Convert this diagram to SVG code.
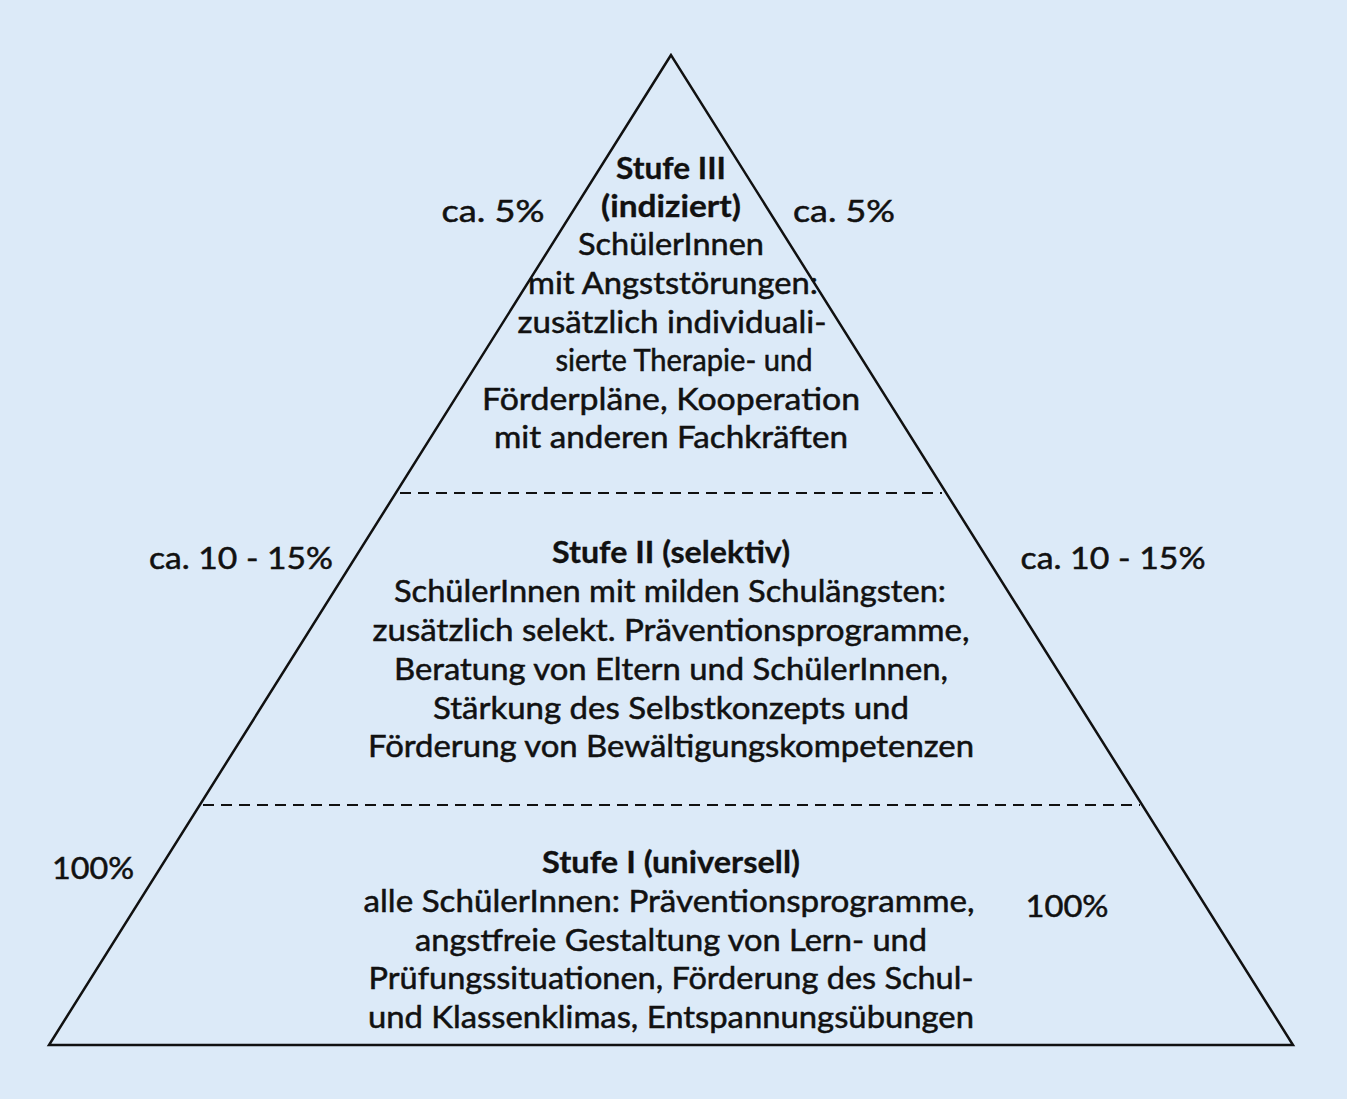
<svg xmlns="http://www.w3.org/2000/svg" width="1347" height="1099" viewBox="0 0 1347 1099">
<style>
.t{font-family:Lato,"Noto Sans","Liberation Sans",sans-serif;font-size:30px;fill:#111;stroke:#111;stroke-width:0.5;text-anchor:middle}
.b{font-weight:bold;stroke-width:0.3}
.l{fill:none;stroke:#111;stroke-width:2.5}
.d{fill:none;stroke:#111;stroke-width:2;stroke-dasharray:11 7}
</style>
<rect width="1347" height="1099" fill="#DCEAF8"/>
<g id="pyramid">
<polygon class="l" points="671,55 49,1045 1293,1045"/>
</g>
<g id="connectors">
<line class="d" x1="400" y1="493" x2="942" y2="493"/>
<line class="d" x1="203" y1="805" x2="1140" y2="805"/>
</g>
<g id="stufe3">
<text class="t b" x="671" y="179" textLength="110" lengthAdjust="spacingAndGlyphs">Stufe III</text>
<text class="t b" x="671" y="217" textLength="140" lengthAdjust="spacingAndGlyphs">(indiziert)</text>
<text class="t" x="671" y="255" textLength="186" lengthAdjust="spacingAndGlyphs">SchülerInnen</text>
<text class="t" x="673" y="294" textLength="290" lengthAdjust="spacingAndGlyphs">mit Angststörungen:</text>
<text class="t" x="672" y="333" textLength="309" lengthAdjust="spacingAndGlyphs">zusätzlich individuali-</text>
<text class="t" x="684" y="371" textLength="257" lengthAdjust="spacingAndGlyphs">sierte Therapie- und</text>
<text class="t" x="671" y="410" textLength="378" lengthAdjust="spacingAndGlyphs">Förderpläne, Kooperation</text>
<text class="t" x="671" y="448" textLength="354" lengthAdjust="spacingAndGlyphs">mit anderen Fachkräften</text>
<text class="t" x="493" y="222" textLength="103" lengthAdjust="spacingAndGlyphs">ca. 5%</text>
<text class="t" x="844" y="222" textLength="102" lengthAdjust="spacingAndGlyphs">ca. 5%</text>
</g>
<g id="stufe2">
<text class="t b" x="671" y="563" textLength="238" lengthAdjust="spacingAndGlyphs">Stufe II (selektiv)</text>
<text class="t" x="670" y="602" textLength="552" lengthAdjust="spacingAndGlyphs">SchülerInnen mit milden Schulängsten:</text>
<text class="t" x="671" y="641" textLength="597" lengthAdjust="spacingAndGlyphs">zusätzlich selekt. Präventionsprogramme,</text>
<text class="t" x="671" y="680" textLength="554" lengthAdjust="spacingAndGlyphs">Beratung von Eltern und SchülerInnen,</text>
<text class="t" x="671" y="719" textLength="476" lengthAdjust="spacingAndGlyphs">Stärkung des Selbstkonzepts und</text>
<text class="t" x="671" y="757" textLength="606" lengthAdjust="spacingAndGlyphs">Förderung von Bewältigungskompetenzen</text>
<text class="t" x="241" y="569" textLength="184" lengthAdjust="spacingAndGlyphs">ca. 10 - 15%</text>
<text class="t" x="1113" y="569" textLength="185" lengthAdjust="spacingAndGlyphs">ca. 10 - 15%</text>
</g>
<g id="stufe1">
<text class="t b" x="671" y="873" textLength="258" lengthAdjust="spacingAndGlyphs">Stufe I (universell)</text>
<text class="t" x="669" y="912" textLength="611" lengthAdjust="spacingAndGlyphs">alle SchülerInnen: Präventionsprogramme,</text>
<text class="t" x="671" y="951" textLength="512" lengthAdjust="spacingAndGlyphs">angstfreie Gestaltung von Lern- und</text>
<text class="t" x="671" y="989" textLength="605" lengthAdjust="spacingAndGlyphs">Prüfungssituationen, Förderung des Schul-</text>
<text class="t" x="671" y="1028" textLength="606" lengthAdjust="spacingAndGlyphs">und Klassenklimas, Entspannungsübungen</text>
<text class="t" x="93" y="879" textLength="82" lengthAdjust="spacingAndGlyphs">100%</text>
<text class="t" x="1067" y="917" textLength="83" lengthAdjust="spacingAndGlyphs">100%</text>
</g>
</svg>
